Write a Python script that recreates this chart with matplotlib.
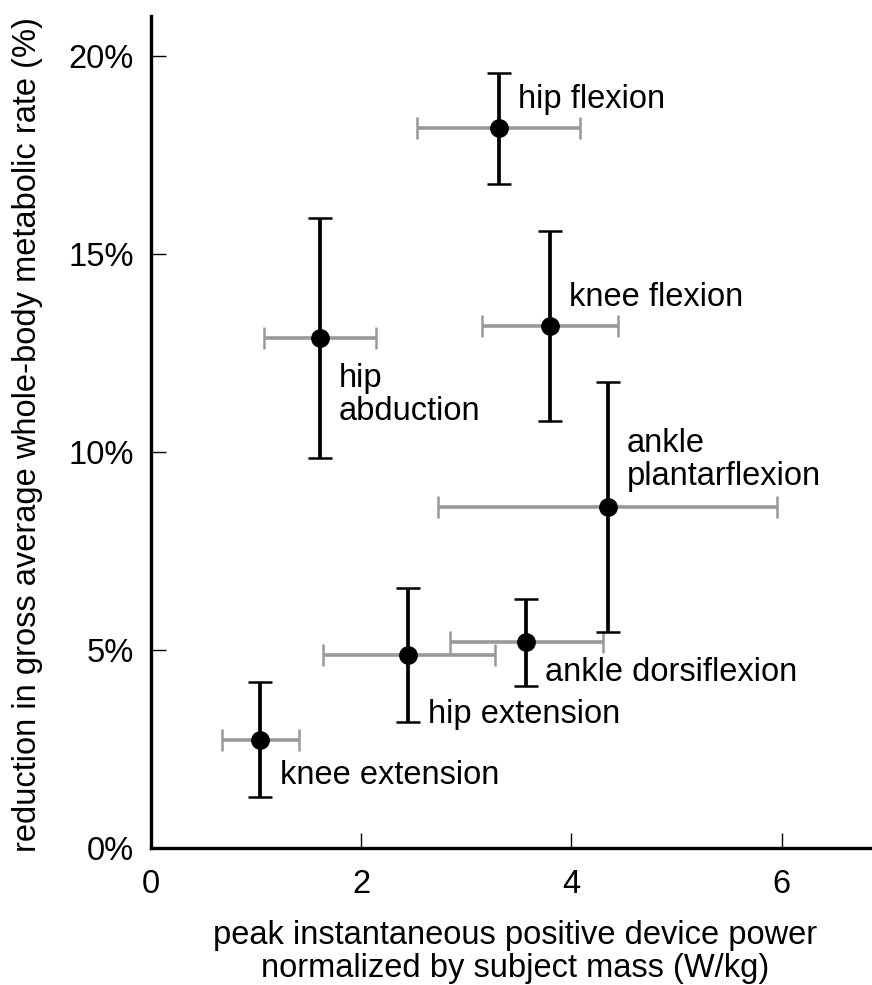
import matplotlib
matplotlib.use("Agg")
import matplotlib.pyplot as plt
import numpy as np

plt.rcParams['font.family'] = ['Liberation Sans', 'DejaVu Sans']

# Data
joints = ["knee extension", "hip extension", "ankle dorsiflexion", "ankle plantarflexion",
          "hip abduction", "knee flexion", "hip flexion"]
power = [1.04, 2.45, 3.57, 4.35, 1.61, 3.80, 3.31]
power_lo = [0.68, 1.64, 2.85, 2.73, 1.08, 3.15, 2.53]
power_hi = [1.41, 3.27, 4.30, 5.96, 2.14, 4.44, 4.08]
reduction = [2.73, 4.87, 5.19, 8.62, 12.87, 13.19, 18.17]
reduction_lo = [1.28, 3.17, 4.09, 5.46, 9.84, 10.78, 16.78]
reduction_hi = [4.20, 6.56, 6.29, 11.76, 15.90, 15.59, 19.58]
label_text = ["knee extension", "hip extension", "ankle dorsiflexion", "ankle\nplantarflexion",
              "hip\nabduction", "knee flexion", "hip flexion"]
label_x = [1.23, 2.64, 3.75, 4.53, 1.79, 3.98, 3.49]
label_y = [1.84, 3.38, 4.44, 9.80, 11.44, 13.90, 18.90]
x_ticks = [0, 2, 4, 6]
y_ticks = [0, 5, 10, 15, 20]
y_tick_labels = ["0%", "5%", "10%", "15%", "20%"]

W, H = 872, 985
fig = plt.figure(figsize=(W / 100, H / 100), dpi=100)
ax = fig.add_axes([150.7 / W, 137 / H, (W - 150.7) / W, 832 / H])

p = np.array(power)
r = np.array(reduction)
xerr = np.vstack([p - np.array(power_lo), np.array(power_hi) - p])
yerr = np.vstack([r - np.array(reduction_lo), np.array(reduction_hi) - r])

ax.errorbar(p, r, xerr=xerr, fmt='none', ecolor='#999999', elinewidth=2.6,
            capsize=8, capthick=1.8, zorder=2)
ax.errorbar(p, r, yerr=yerr, fmt='none', ecolor='black', elinewidth=2.7,
            capsize=8.5, capthick=1.8, zorder=3)
ax.plot(p, r, 'o', color='black', markersize=12.5, zorder=4)

fs = 23.5
for t, lx, ly in zip(label_text, label_x, label_y):
    ax.text(lx, ly, t, fontsize=fs, ha='left', va='center', linespacing=1.05)

ax.set_xlim(0, 6.86)
ax.set_ylim(0, 21.01)
ax.set_xticks(x_ticks)
ax.set_xticklabels([str(v) for v in x_ticks])
ax.set_yticks(y_ticks)
ax.set_yticklabels(y_tick_labels)
ax.tick_params(direction='in', length=11, width=1, labelsize=fs)
ax.tick_params(axis='y', pad=12)
ax.tick_params(axis='x', pad=15)

for s in ['top', 'right']:
    ax.spines[s].set_visible(False)
for s in ['left', 'bottom']:
    ax.spines[s].set_linewidth(2.4)

ax.set_xlabel("peak instantaneous positive device power\nnormalized by subject mass (W/kg)",
              fontsize=fs, linespacing=1.1)
ax.set_ylabel("reduction in gross average whole-body metabolic rate (%)", fontsize=fs)
ax.xaxis.set_label_coords((515 - 150.7) / (W - 150.7), (848 - 920) / 832)
ax.yaxis.set_label_coords((43 - 150.7) / (W - 150.7), 0.497)

fig.savefig("out.png", dpi=100)
